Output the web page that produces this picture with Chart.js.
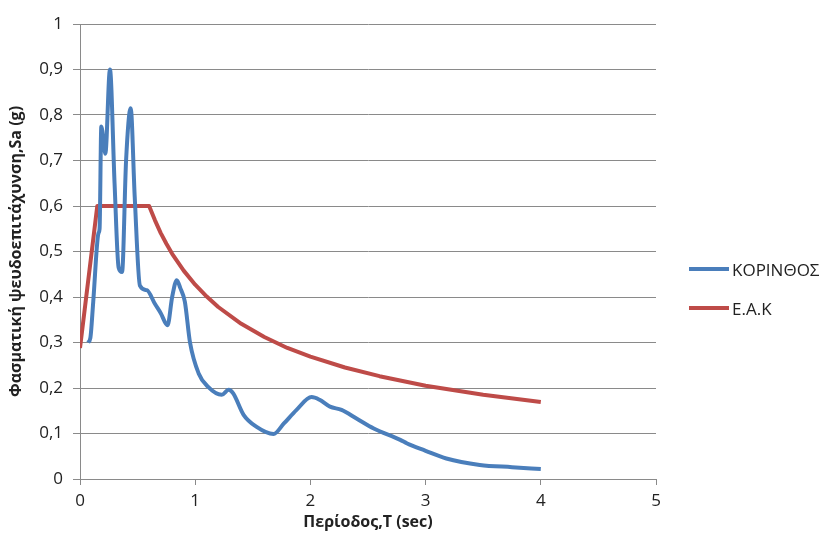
<!DOCTYPE html>
<html>
<head>
<meta charset="utf-8">
<script src="https://cdn.jsdelivr.net/npm/chart.js@4.4.1/dist/chart.umd.min.js"></script>
<style>
  html, body { margin: 0; padding: 0; background: #fff; }
  #wrap { position: relative; width: 822px; height: 545px; }
  #legend { position: absolute; left: 689px; top: 257px; font-family: "Open Sans", sans-serif; font-size: 17px; color: #222; }
  .item { display: flex; align-items: center; height: 24px; margin-bottom: 15px; }
  .swatch { width: 40px; height: 4px; margin-right: 3px; }
</style>
</head>
<body>
<div id="wrap">
  <canvas id="chart" width="822" height="545"></canvas>
  <div id="legend"></div>
</div>
<script>
// Korinthos record spectrum
var korinthosT = [0.07, 0.09, 0.115, 0.16, 0.17, 0.185, 0.22, 0.26, 0.30, 0.335, 0.365, 0.40, 0.44, 0.475, 0.52, 0.58, 0.65, 0.70, 0.76, 0.80, 0.84, 0.87, 0.91, 0.955, 1.03, 1.11, 1.23, 1.29, 1.33, 1.42, 1.53, 1.68, 1.77, 1.88, 2.01, 2.08, 2.17, 2.27, 2.40, 2.55, 2.78, 2.84, 3.0, 3.18, 3.47, 3.75, 4.0];
var korinthosSa = [0.30, 0.31, 0.39, 0.54, 0.55, 0.775, 0.715, 0.90, 0.65, 0.465, 0.455, 0.70, 0.815, 0.62, 0.425, 0.415, 0.385, 0.365, 0.338, 0.40, 0.437, 0.42, 0.39, 0.30, 0.232, 0.203, 0.185, 0.196, 0.188, 0.141, 0.115, 0.099, 0.122, 0.152, 0.18, 0.174, 0.159, 0.152, 0.133, 0.111, 0.086, 0.078, 0.062, 0.045, 0.031, 0.026, 0.022];

// design spectrum (E.A.K)
var eakT = [0, 0.15, 0.6, 0.65, 0.7, 0.75, 0.8, 0.9, 1.0, 1.1, 1.2, 1.4, 1.6, 1.8, 2.0, 2.3, 2.6, 3.0, 3.5, 4.0];
var eakSa = [0.288, 0.6, 0.6, 0.569, 0.541, 0.517, 0.495, 0.458, 0.427, 0.401, 0.378, 0.341, 0.312, 0.288, 0.269, 0.245, 0.226, 0.205, 0.185, 0.169];

var seriesNames = ['ΚΟΡΙΝΘΟΣ', 'Ε.Α.Κ'];
var seriesColors = ['#4a7ebb', '#be4b48'];

function pts(xs, ys) {
  return xs.map(function (x, i) { return { x: x, y: ys[i] }; });
}

var font = '"Open Sans", sans-serif';
var gridColor = '#8a8a8a';

new Chart(document.getElementById('chart'), {
  type: 'line',
  data: {
    datasets: [
      { label: seriesNames[0], data: pts(korinthosT, korinthosSa), borderColor: seriesColors[0], borderWidth: 4, pointRadius: 0, cubicInterpolationMode: 'monotone', tension: 0.4 },
      { label: seriesNames[1], data: pts(eakT, eakSa), borderColor: seriesColors[1], borderWidth: 4, pointRadius: 0, tension: 0, borderJoinStyle: 'round' }
    ]
  },
  options: {
    responsive: false,
    animation: false,
    layout: { padding: { top: 24, right: 166, left: 0, bottom: 0 } },
    plugins: { legend: { display: false }, tooltip: { enabled: false } },
    scales: {
      x: {
        type: 'linear', min: 0, max: 5,
        afterFit: function (s) { s.height = 66; },
        ticks: { stepSize: 1, color: '#222', padding: 6, font: { family: font, size: 17 } },
        grid: { drawOnChartArea: false, tickLength: 6, color: gridColor },
        border: { color: gridColor },
        title: { display: true, text: 'Περίοδος,T (sec)', color: '#222', padding: { top: 0, bottom: 13 }, font: { family: font, size: 16, weight: 'bold' } }
      },
      y: {
        min: 0, max: 1,
        afterFit: function (s) { s.width = 80; },
        ticks: {
          stepSize: 0.1, color: '#222', padding: 10, font: { family: font, size: 17 },
          callback: function (v) { return Math.round(v * 10) === 0 || Math.round(v * 10) === 10 ? String(Math.round(v)) : v.toFixed(1).replace('.', ','); }
        },
        grid: { tickLength: 7, color: gridColor },
        border: { color: gridColor },
        title: { display: true, text: 'Φασματική ψευδοεπιτάχυνση,Sa (g)', color: '#222', padding: { top: 7, bottom: 0 }, font: { family: font, size: 16, weight: 'bold' } }
      }
    }
  }
});

var legend = document.getElementById('legend');
seriesNames.forEach(function (name, i) {
  var row = document.createElement('div');
  row.className = 'item';
  var sw = document.createElement('span');
  sw.className = 'swatch';
  sw.style.background = seriesColors[i];
  var tx = document.createElement('span');
  tx.textContent = name;
  row.appendChild(sw);
  row.appendChild(tx);
  legend.appendChild(row);
});
</script>
</body>
</html>
